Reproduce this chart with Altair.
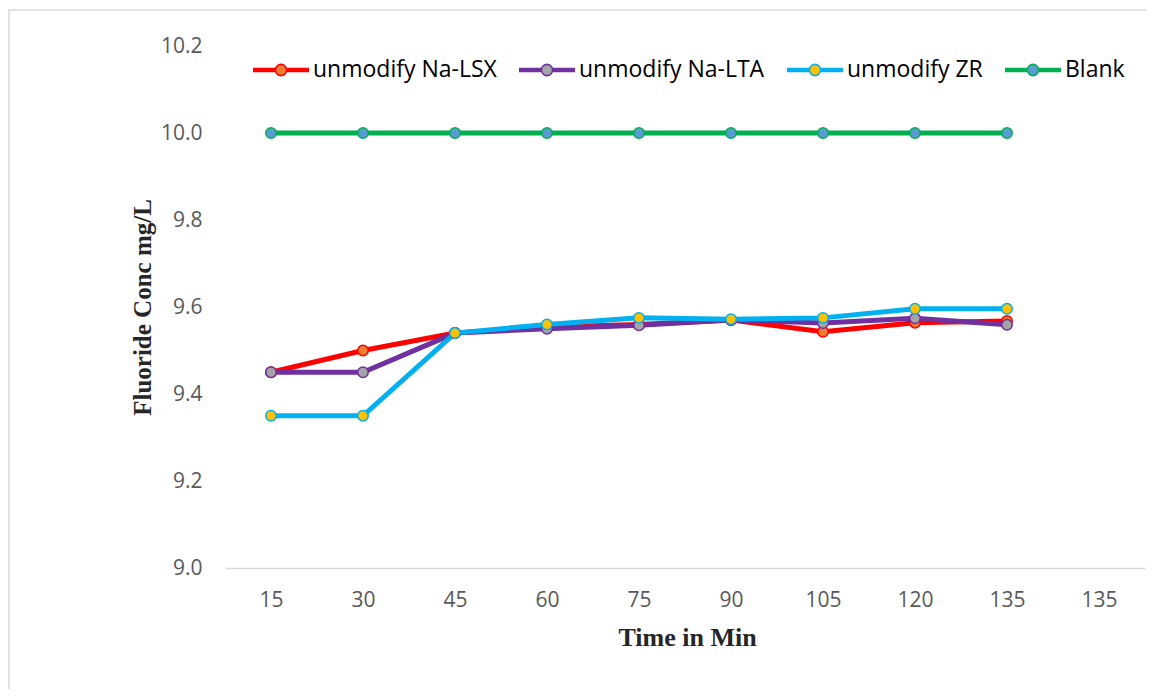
import altair as alt
import pandas as pd

# ---- data ----
time_labels = ["15", "30", "45", "60", "75", "90", "105", "120", "135", "135 "]
times = ["15", "30", "45", "60", "75", "90", "105", "120", "135"]
series_names = ["unmodify Na-LSX", "unmodify Na-LTA", "unmodify ZR", "Blank"]
na_lsx = [9.45, 9.50, 9.54, 9.554, 9.56, 9.57, 9.543, 9.564, 9.568]
na_lta = [9.45, 9.45, 9.54, 9.55, 9.558, 9.57, 9.563, 9.574, 9.559]
zr = [9.35, 9.35, 9.54, 9.56, 9.575, 9.572, 9.575, 9.596, 9.596]
blank = [10.0, 10.0, 10.0, 10.0, 10.0, 10.0, 10.0, 10.0, 10.0]
y_ticks = [9.0, 9.2, 9.4, 9.6, 9.8, 10.0, 10.2]

line_colors = ["#FF0000", "#7030A0", "#00B0F0", "#00B050"]
marker_fills = ["#ED7D31", "#A5A5A5", "#FFC000", "#5B9BD5"]

rows = []
for name, vals in zip(series_names, [na_lsx, na_lta, zr, blank]):
    for i, (t, v) in enumerate(zip(times, vals)):
        rows.append({"time": t, "idx": i, "value": v, "series": name})
df = pd.DataFrame(rows)

x_enc = alt.X("time:O", scale=alt.Scale(domain=time_labels, type="point", padding=0.5),
              axis=alt.Axis(title="Time in Min", labelAngle=0, labelExpr="trim(datum.label)",
                            ticks=False, domain=True, domainColor="#D9D9D9", domainWidth=1.5,
                            grid=False, labelPadding=21, titleX=462, titleY=69,
                            titleBaseline="middle", titleFontSize=26))
y_enc = alt.Y("value:Q", scale=alt.Scale(domain=[9.0, 10.2], nice=False, zero=False),
              axis=alt.Axis(title="Fluoride Conc mg/L", values=y_ticks, format=".1f",
                            ticks=False, domain=False, grid=False, labelPadding=23,
                            titleX=-83, titleY=261, titleAngle=-90, titleAlign="center",
                            titleBaseline="middle"))

# legend symbol: thick line (three close strokes) with a filled circular marker
legend_symbol = (
    "M-1,-0.05L-0.2,-0.05M-1,0L-0.2,0M-1,0.05L-0.2,0.05"
    "M0.2,-0.05L1,-0.05M0.2,0L1,0M0.2,0.05L1,0.05"
    "M-0.2,0A0.2,0.2 0 1,0 0.2,0A0.2,0.2 0 1,0 -0.2,0Z"
)

def make_legend():
    return alt.Legend(orient="none", legendX=27, legendY=-5, direction="horizontal",
                      title=None, symbolType=legend_symbol, symbolSize=3136,
                      symbolStrokeWidth=1.6, symbolOpacity=1, labelOffset=3,
                      columnPadding=18, labelLimit=400,
                      labelFont="Open Sans", labelFontSize=23, labelColor="#000000",
                      padding=0)

color_enc = alt.Color("series:N", scale=alt.Scale(domain=series_names, range=line_colors),
                      legend=make_legend())
fill_enc = alt.Fill("series:N", scale=alt.Scale(domain=series_names, range=marker_fills),
                    legend=make_legend())

base = alt.Chart(df)

lines = base.mark_line(strokeWidth=5).encode(
    x=x_enc, y=y_enc, color=color_enc, order=alt.Order("idx:Q"))

points = base.mark_point(filled=False, size=110, strokeWidth=1.5, opacity=1,
                         shape="circle").encode(
    x=x_enc, y=y_enc, color=color_enc, fill=fill_enc)

border = alt.Chart(alt.Data(values=[{}])).mark_rect(
    fill="transparent", stroke="#D9D9D9", strokeWidth=1.5, clip=False
).encode(x=alt.value(-216), x2=alt.value(960), y=alt.value(-36), y2=alt.value(700))

chart = alt.layer(border, lines, points).properties(
    width=920, height=522,
    autosize=alt.AutoSizeParams(type="none"),
    padding={"left": 217, "top": 38, "right": 1, "bottom": 121},
    background="white",
).configure_view(stroke=None).configure_axis(
    labelFont="Open Sans", labelFontSize=21, labelColor="#595959",
    titleFont="Liberation Serif", titleFontSize=25, titleFontWeight="bold",
    titleColor="#262626"
)

chart.save("out.html", embed_options={"renderer": "svg", "actions": False})
